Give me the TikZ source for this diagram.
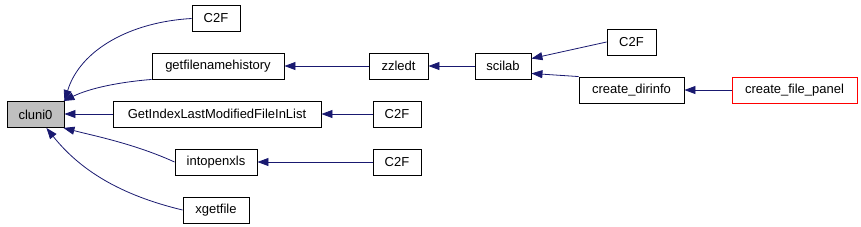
\documentclass[tikz,border=0pt]{standalone}
\usepackage{fontspec}
\setmainfont{Liberation Sans}
\usetikzlibrary{arrows.meta}
\definecolor{edgeNavy}{RGB}{25, 25, 112}
\definecolor{boxGray}{RGB}{191, 191, 191}
\definecolor{boxRed}{RGB}{255, 0, 0}

\begin{document}
\begin{tikzpicture}[x=1pt, y=-1pt,
    fn/.style={draw, line width=0.9pt, inner sep=0pt, minimum height=26pt, font=\fontsize{13}{15}\selectfont},
    calledge/.style={->, >={Triangle[length=11pt, width=8pt]}, edgeNavy, line width=0.8pt}]
    \useasboundingbox (0,0) rectangle (861,226);
    % callee
    \node[fn, fill=boxGray, minimum width=57pt] (cluni) at (35.5,114.5) {cluni0};
    % first column
    \node[fn, minimum width=48pt] (ctwofA) at (216,18.5) {C2F};
    \node[fn, minimum width=132pt] (gfh) at (218,66) {getfilenamehistory};
    \node[fn, minimum width=208pt] (gilm) at (217,114) {GetIndexLastModifiedFileInList};
    \node[fn, minimum width=82pt] (iox) at (216,162) {intopenxls};
    \node[fn, minimum width=66pt] (xgf) at (216,210) {xgetfile};
    % further callers
    \node[fn, minimum width=59pt] (zzl) at (398.5,66) {zzledt};
    \node[fn, minimum width=56pt] (scil) at (503,66) {scilab};
    \node[fn, minimum width=48pt] (ctwofB) at (397,114) {C2F};
    \node[fn, minimum width=48pt] (ctwofC) at (397,162) {C2F};
    \node[fn, minimum width=49pt] (ctwofD) at (631.5,42) {C2F};
    \node[fn, minimum width=105pt] (cdi) at (631.5,90) {create\_dirinfo};
    \node[fn, draw=boxRed, minimum width=125pt] (cfp) at (794.5,90) {create\_file\_panel};

    \draw[calledge] (ctwofA.west) .. controls (130,22) and (80,50) .. (cluni.north east);
    \draw[calledge] (gfh.south west) .. controls (120,82) and (90,88) .. ([xshift=-1pt]cluni.north east);
    \draw[calledge] (gilm.west) -- (cluni.east |- gilm.west);
    \draw[calledge] (iox.west) .. controls (135,144) and (95,136) .. ([xshift=-1pt]cluni.south east);
    \draw[calledge] (xgf.west) .. controls (120,195) and (80,170) .. ([xshift=-18pt]cluni.south east);
    \draw[calledge] (zzl) -- (gfh);
    \draw[calledge] (scil) -- (zzl);
    \draw[calledge] (ctwofB) -- (gilm);
    \draw[calledge] (ctwofC) -- (iox);
    \draw[calledge] (ctwofD.west) -- ([yshift=-6pt]scil.north east);
    \draw[calledge] (cdi.north west) -- ([yshift=6pt]scil.south east);
    \draw[calledge] (cfp) -- (cdi);
  \end{tikzpicture}
\end{document}
